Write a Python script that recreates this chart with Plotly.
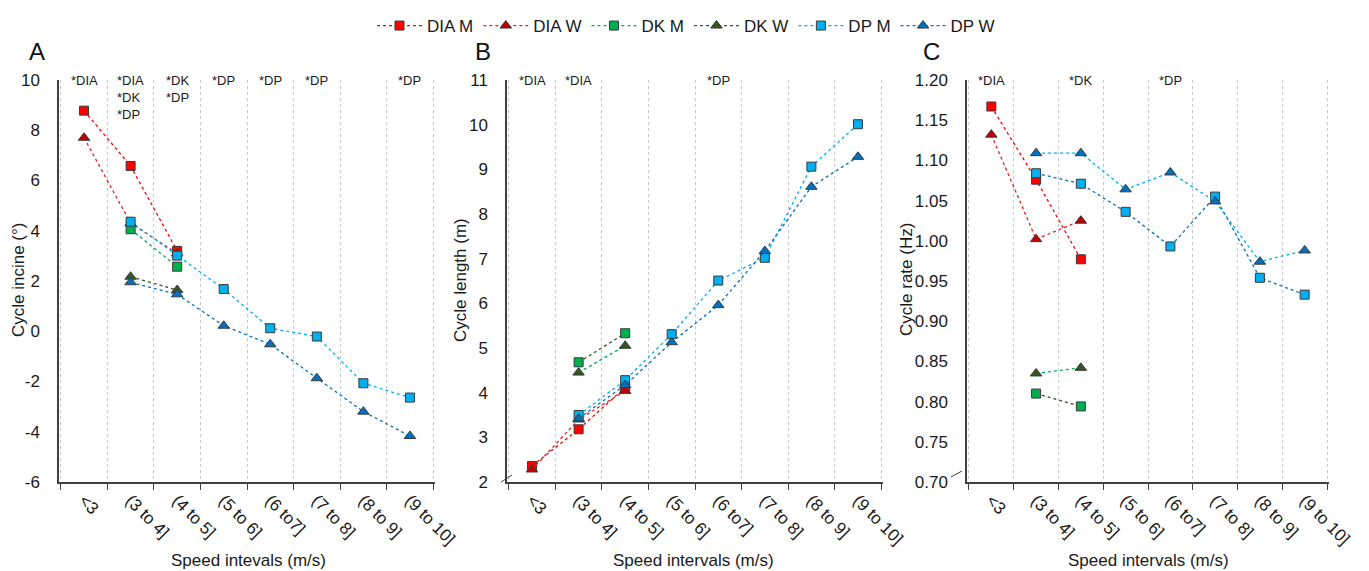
import plotly.graph_objects as go

categories = ["<3", "(3 to 4]", "(4 to 5]", "(5 to 6]", "(6 to7]", "(7 to 8]", "(8 to 9]", "(9 to 10]"]
series_names = ["DIA M", "DIA W", "DK M", "DK W", "DP M", "DP W"]

# Panel A: cycle incline (deg)
a_dia_m = [8.78, 6.58, 3.2, None, None, None, None, None]
a_dia_w = [7.7, 4.3, 3.1, None, None, None, None, None]
a_dk_m = [None, 4.06, 2.57, None, None, None, None, None]
a_dk_w = [None, 2.17, 1.64, None, None, None, None, None]
a_dp_m = [None, 4.36, 3.01, 1.68, 0.12, -0.21, -2.07, -2.64]
a_dp_w = [None, 1.95, 1.47, 0.22, -0.52, -1.87, -3.2, -4.17]
a_ticks = [-6, -4, -2, 0, 2, 4, 6, 8, 10]
a_ticktext = ["-6", "-4", "-2", "0", "2", "4", "6", "8", "10"]

# Panel B: cycle length (m)
b_dia_m = [2.36, 3.18, 4.12, None, None, None, None, None]
b_dia_w = [2.28, 3.4, 4.04, None, None, None, None, None]
b_dk_m = [None, 4.68, 5.33, None, None, None, None, None]
b_dk_w = [None, 4.45, 5.05, None, None, None, None, None]
b_dp_m = [None, 3.5, 4.28, 5.31, 6.51, 7.02, 9.06, 10.01]
b_dp_w = [None, 3.42, 4.17, 5.13, 5.96, 7.17, 8.61, 9.28]
b_ticks = [2, 3, 4, 5, 6, 7, 8, 9, 10, 11]
b_ticktext = ["2", "3", "4", "5", "6", "7", "8", "9", "10", "11"]

# Panel C: cycle rate (Hz)
c_dia_m = [1.167, 1.076, 0.977, None, None, None, None, None]
c_dia_w = [1.132, 1.002, 1.025, None, None, None, None, None]
c_dk_m = [None, 0.810, 0.794, None, None, None, None, None]
c_dk_w = [None, 0.835, 0.842, None, None, None, None, None]
c_dp_m = [None, 1.084, 1.071, 1.036, 0.993, 1.055, 0.954, 0.933]
c_dp_w = [None, 1.109, 1.109, 1.064, 1.085, 1.049, 0.974, 0.988]
c_ticks = [0.70, 0.75, 0.80, 0.85, 0.90, 0.95, 1.00, 1.05, 1.10, 1.15, 1.20]
c_ticktext = ["0.70", "0.75", "0.80", "0.85", "0.90", "0.95", "1.00", "1.05", "1.10", "1.15", "1.20"]

a_notes = {"<3": "*DIA", "(3 to 4]": "*DIA<br>*DK<br>*DP", "(4 to 5]": "*DK<br>*DP",
           "(5 to 6]": "*DP", "(6 to7]": "*DP", "(7 to 8]": "*DP", "(9 to 10]": "*DP"}
b_notes = {"<3": "*DIA", "(3 to 4]": "*DIA", "(6 to7]": "*DP"}
c_notes = {"<3": "*DIA", "(4 to 5]": "*DK", "(6 to7]": "*DP"}

FONT = "Arial, Liberation Sans, sans-serif"
TXT = "#1a1a1a"
marker_fill = {"DIA M": "#FF0000", "DIA W": "#C00000", "DK M": "#00B050",
               "DK W": "#375623", "DP M": "#00B0F0", "DP W": "#0070C0"}
symbols = {"DIA M": "square", "DIA W": "triangle-up", "DK M": "square",
           "DK W": "triangle-up", "DP M": "square", "DP W": "triangle-up"}
line_normal = {"DIA M": "#FF0000", "DIA W": "#E02020", "DK M": "#00B050",
               "DK W": "#375623", "DP M": "#00B0F0", "DP W": "#0070C0"}
line_b = dict(line_normal, **{"DK M": "#375623", "DK W": "#00B050"})
line_c = dict(line_normal, **{"DK M": "#375623", "DK W": "#00B050",
                              "DP M": "#0070C0", "DP W": "#00B0F0"})

# page body has an 8px margin; layout positions below are screen pixels
OFF = 8
W, H = 1369 - OFF, 571 - OFF
def px(x):
    return (x - OFF) / W
def py(y):
    return 1 - (y - OFF) / H

panels = [
    dict(data=[a_dia_m, a_dia_w, a_dk_m, a_dk_w, a_dp_m, a_dp_w], lines=line_normal,
         x0=59, x1=435, yr=[-6, 10], tv=a_ticks, tt=a_ticktext, ytitle="Cycle incine (°)",
         xtitle="Speed intevals (m/s)", notes=a_notes, letter="A", lx=37,
         ytx=18, xtx=248),
    dict(data=[b_dia_m, b_dia_w, b_dk_m, b_dk_w, b_dp_m, b_dp_w], lines=line_b,
         x0=507, x1=883, yr=[2, 11], tv=b_ticks, tt=b_ticktext, ytitle="Cycle length (m)",
         xtitle="Speed intervals (m/s)", notes=b_notes, letter="B", lx=483,
         ytx=460, xtx=694),
    dict(data=[c_dia_m, c_dia_w, c_dk_m, c_dk_w, c_dp_m, c_dp_w], lines=line_c,
         x0=967, x1=1329, yr=[0.70, 1.20], tv=c_ticks, tt=c_ticktext, ytitle="Cycle rate (Hz)",
         xtitle="Speed intervals (m/s)", notes=c_notes, letter="C", lx=932,
         ytx=906, xtx=1148),
]

fig = go.Figure()
annotations = []
shapes = []
for i, p in enumerate(panels):
    xa = "x" if i == 0 else f"x{i+1}"
    ya = "y" if i == 0 else f"y{i+1}"
    for name, vals in zip(series_names, p["data"]):
        fig.add_trace(go.Scatter(
            x=categories, y=vals, name=name, mode="lines+markers",
            xaxis=xa, yaxis=ya, showlegend=(i == 0), legendgroup=name,
            line=dict(color=p["lines"][name], width=1.3, dash="dot"),
            marker=dict(symbol=symbols[name], size=9 if symbols[name] == "square" else 10,
                        color=marker_fill[name], line=dict(color="#3a3a3a", width=1)),
        ))
    ykey = "yaxis" if i == 0 else f"yaxis{i+1}"
    xkey = "xaxis" if i == 0 else f"xaxis{i+1}"
    fig.layout[xkey] = dict(
        domain=[px(p["x0"]), px(p["x1"])], anchor=ya, type="category",
        categoryorder="array", categoryarray=categories, automargin=False,
        tickson="boundaries", ticks="outside", ticklen=6, tickcolor="#404040",
        showline=True, linecolor="#404040", linewidth=1.5,
        showgrid=True, gridcolor="#C8C8C8", griddash="3px,3px", gridwidth=1,
        tickangle=45, tickfont=dict(family=FONT, size=17, color=TXT),
        fixedrange=True,
    )
    fig.layout[ykey] = dict(
        domain=[py(482), py(80)], anchor=xa, range=p["yr"], automargin=False,
        tickmode="array", tickvals=p["tv"], ticktext=p["tt"],
        showgrid=False, zeroline=False, ticklabelstandoff=14,
        showline=True, linecolor="#404040", linewidth=1.5, ticks="",
        tickfont=dict(family=FONT, size=17, color=TXT),
        fixedrange=True,
    )
    for cat, txt in p["notes"].items():
        annotations.append(dict(
            x=cat, xref=xa, y=py(71), yref="paper", yanchor="top", xanchor="center",
            text=txt, showarrow=False, align="left",
            font=dict(family=FONT, size=13, color=TXT),
        ))
    annotations.append(dict(
        x=px(p["lx"]), y=py(52), xref="paper", yref="paper", text=p["letter"],
        showarrow=False, xanchor="center", yanchor="middle",
        font=dict(family=FONT, size=24, color="#111"),
    ))
    # axis titles
    annotations.append(dict(
        x=px(p["xtx"]), y=py(560), xref="paper", yref="paper", text=p["xtitle"],
        showarrow=False, xanchor="center", yanchor="middle",
        font=dict(family=FONT, size=17, color=TXT),
    ))
    annotations.append(dict(
        x=px(p["ytx"]), y=py(280), xref="paper", yref="paper", text=p["ytitle"],
        showarrow=False, xanchor="center", yanchor="middle", textangle=-90,
        font=dict(family=FONT, size=17, color=TXT),
    ))

# axis-break marks on panels B and C
shapes.append(dict(type="line", xref="paper", yref="paper", x0=px(501), y0=py(482),
                   x1=px(512), y1=py(475), line=dict(color="#404040", width=1)))
shapes.append(dict(type="line", xref="paper", yref="paper", x0=px(951), y0=py(477),
                   x1=px(962), y1=py(471), line=dict(color="#404040", width=1)))

fig.update_layout(
    width=W, height=H, margin=dict(l=0, r=0, t=0, b=0, autoexpand=False),
    paper_bgcolor="white", plot_bgcolor="white",
    font=dict(family=FONT, size=17, color=TXT),
    legend=dict(orientation="h", x=px(686), xanchor="center", y=1, yanchor="top",
                font=dict(family=FONT, size=17, color=TXT), itemwidth=45,
                tracegroupgap=0),
    annotations=annotations, shapes=shapes,
)

fig.write_html("out.html")
